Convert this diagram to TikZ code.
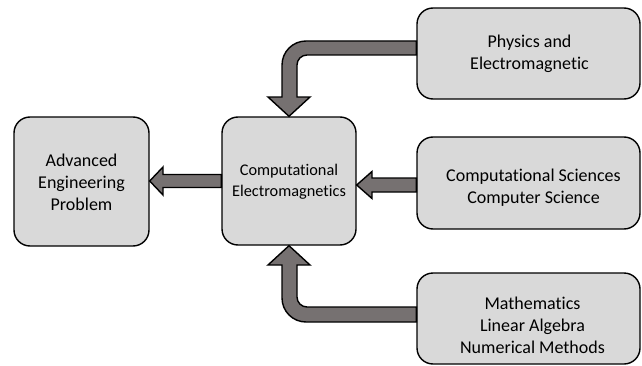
\documentclass[tikz,border=0pt]{standalone}
\usepackage{fontspec}
\setmainfont{Carlito}[Ligatures={NoCommon}]
\definecolor{boxfill}{HTML}{D9D9D9}
\definecolor{arrfill}{HTML}{767171}
\begin{document}
\begin{tikzpicture}[x=1pt,y=1pt,
 box/.style={draw=black,line width=1.4pt,fill=boxfill,rounded corners=16pt,inner sep=0pt},
 txt/.style={align=center,font=\fontsize{18}{22}\selectfont,inner sep=0pt},
 ctxt/.style={align=center,font=\fontsize{16.3}{21}\selectfont,inner sep=0pt},
 blk/.style={draw=black,line width=1.4pt,fill=arrfill,line join=miter}]
\useasboundingbox (0,0) rectangle (642,365);
% boxes
\node[box,minimum width=135pt,minimum height=129pt] (ae) at (81.5,183.5) {};
\node[box,minimum width=134pt,minimum height=128pt] (cem) at (289,184) {};
\node[box,minimum width=223pt,minimum height=91pt] (phys) at (528.5,311.5) {};
\node[box,minimum width=223pt,minimum height=92pt] (cs) at (528.5,182) {};
\node[box,minimum width=223pt,minimum height=91pt] (math) at (528.5,46.5) {};
% texts
\node[txt] (aet) at ([yshift=-1pt]ae.center) {Advanced\\Engineering\\Problem};
\node[ctxt] (cemt) at ([yshift=-1pt]cem.center) {Computational\\Electromagnetics};
\node[txt] (physt) at ([xshift=1pt,yshift=0pt]phys.center) {Physics and\\Electromagnetic};
\node[txt] (cst) at ([xshift=5pt,yshift=-4.5pt]cs.center) {Computational Sciences\\Computer Science};
\node[txt] (matht) at ([xshift=4pt,yshift=-6.5pt]math.center) {Mathematics\\Linear Algebra\\Numerical Methods};
% top arrow: phys -> cem
\draw[blk] (phys.west |- 0,324) -- (306,324) arc[start angle=90,end angle=180,radius=24]
  -- (282,268) -- (268,268) -- (cem.north) -- (310,268) -- (297,268) -- (297,300)
  arc[start angle=180,end angle=90,radius=10] -- (phys.west |- 0,310) -- cycle;
% bottom arrow: math -> cem
\draw[blk] (math.west |- 0,58) -- (307,58) arc[start angle=270,end angle=180,radius=10]
  -- (297,100) -- (310,100) -- (cem.south) -- (268,100) -- (282,100) -- (282,67)
  arc[start angle=180,end angle=270,radius=24] -- (math.west |- 0,43) -- cycle;
% middle arrow: cs -> cem
\draw[blk] (cs.west |- 0,187) -- (372,187) -- (372,193.5) -- (cem.east |- 0,180)
  -- (372,166.5) -- (372,173) -- (cs.west |- 0,173) -- cycle;
% left arrow: cem -> ae
\draw[blk] (cem.west |- 0,190.5) -- (163,190.5) -- (163,198) -- (ae.east |- 0,184)
  -- (163,170) -- (163,177.5) -- (cem.west |- 0,177.5) -- cycle;
\end{tikzpicture}
\end{document}
